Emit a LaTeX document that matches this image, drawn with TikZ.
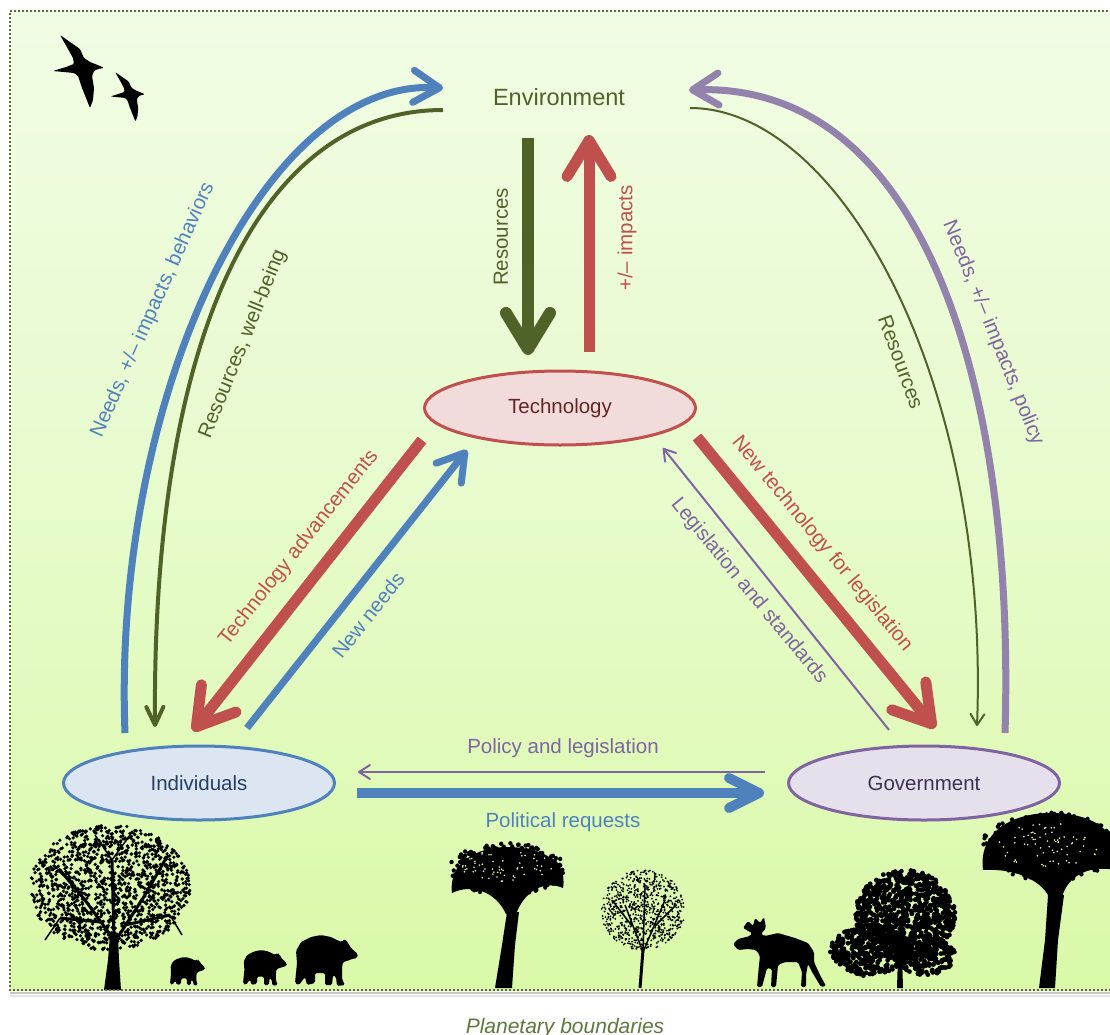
\documentclass[tikz,border=0pt]{standalone}
\usepackage{fontspec}
\setmainfont{Liberation Sans}
\usetikzlibrary{arrows.meta,shapes.geometric}

\definecolor{cblue}{HTML}{4F81BD}
\definecolor{cred}{HTML}{C0504D}
\definecolor{cgreen}{HTML}{4F6228}
\definecolor{cpurple}{HTML}{8064A2}
\definecolor{cpurplel}{RGB}{146,130,172}
\definecolor{framecol}{RGB}{90,105,60}
\definecolor{bgtop}{RGB}{241,252,228}
\definecolor{bgmid}{RGB}{231,251,204}
\definecolor{bgbot}{RGB}{218,249,168}
\definecolor{speck}{RGB}{222,249,180}
\definecolor{techfill}{HTML}{F2DCDB}
\definecolor{techtext}{HTML}{632523}
\definecolor{indfill}{HTML}{DCE6F2}
\definecolor{indtext}{HTML}{244061}
\definecolor{govfill}{HTML}{E6E0EC}
\definecolor{govtext}{HTML}{3F3151}
\definecolor{pbgreen}{RGB}{95,120,60}

\newcommand\crowndots[7]{%
  \foreach \ci in {1,...,#5}{%
    \pgfmathsetmacro\cang{360*rnd}%
    \pgfmathsetmacro\crad{sqrt(rnd)}%
    \pgfmathsetmacro\qx{#1+#3*\crad*cos(\cang)}%
    \pgfmathsetmacro\qy{#2+#4*\crad*sin(\cang)}%
    \fill[#7] (\qx,\qy) circle[radius=#6];%
  }}
\newcommand\birdshape{\fill[rounded corners=1.2pt] (6,0) -- (16,7) -- (26,14) -- (30,23) -- (36,27) -- (41,29) -- (46,31) -- (50,33) -- (44,34) -- (40,36) -- (38,41) -- (40,53) -- (39,65) -- (36,73) -- (32,63) -- (28,53) -- (24,41) -- (20,38) -- (-1,36) -- (12,32) -- (20,29) -- (19,23) -- (14,14) -- cycle;}
\newcommand\bearshape{\fill[rounded corners=1.5pt] (2,28) -- (1,16) -- (6,7) -- (16,2) -- (26,0) -- (36,2) -- (44,6) -- (47,7) -- (49,4) -- (52,6) -- (54,10) -- (58,15) -- (63,19) -- (62,23) -- (57,24) -- (52,26) -- (48,27) -- (47,33) -- (47,44) -- (50,50) -- (42,51) -- (41,42) -- (38,40) -- (37,50) -- (30,50) -- (30,38) -- (20,38) -- (20,48) -- (12,50) -- (10,42) -- (7,46) -- (4,50) -- (0,48) -- (1,38) -- cycle;}

\begin{document}
\begin{tikzpicture}[x=1pt,y=-1pt,
  lbl/.style={font=\fontsize{20.5}{24}\selectfont, inner sep=0pt},
  ell/.style={ellipse, line width=3pt, minimum width=271pt, minimum height=74pt, inner sep=0pt, font=\fontsize{20.5}{24}\selectfont},
  thickred/.style={cred, line width=11pt, -{Straight Barb[length=36pt,width=44pt,round]}},
  thickgreen/.style={cgreen, line width=12pt, -{Straight Barb[length=36pt,width=44pt,round]}},
  bigcurve/.style={line width=7pt, -{Straight Barb[length=26pt,width=32pt,round]}},
  midblue/.style={cblue, line width=7pt, -{Straight Barb[length=26pt,width=32pt,round]}},
  polblue/.style={cblue, line width=10pt, -{Straight Barb[length=30pt,width=30pt,round]}},
  greencurve/.style={cgreen, line width=4pt, -{Straight Barb[length=18pt,width=17pt,round]}},
  thinline/.style={line width=2pt, -{Straight Barb[length=11pt,width=14pt,round]}}
]
\useasboundingbox (0,0) rectangle (1110,1035);
\fill[white] (0,0) rectangle (1110,1035);
\shade[top color=bgtop, bottom color=bgbot, middle color=bgmid] (10,11) rectangle (1112,990);

% ---------- trees and animals ----------
% Tree A
\fill (104,990) -- (121,990) -- (119,960) -- (118,935) -- (110,935) -- (108,960) -- cycle;
\draw[line width=3pt] (114,940) -- (85,900) (116,940) -- (145,895) (114,940) -- (112,860) (100,922) -- (60,918) (125,925) -- (170,915) (85,900) -- (60,870) (145,895) -- (165,860);
\draw[line width=1.5pt] (60,918) -- (45,940) (170,915) -- (182,935) (112,860) -- (95,835) (112,860) -- (130,835);
\pgfmathsetseed{11}
\crowndots{110}{888}{80}{63}{1400}{1.8}{black}
% Bears
\begin{scope}[shift={(170,957)},scale=0.56]\bearshape\end{scope}
\begin{scope}[shift={(243,950)},scale=0.7]\bearshape\end{scope}
\begin{scope}[shift={(295,935)}]\bearshape\end{scope}
% Tree B
\fill (495,988) -- (512,988) -- (515,945) -- (519,912) -- (507,912) -- (502,945) -- cycle;
\fill (452,893) .. controls (448,862) and (478,847) .. (507,847) .. controls (540,847) and (568,860) .. (563,888) .. controls (545,880) and (525,890) .. (516,914) -- (506,914) .. controls (495,890) and (470,884) .. (452,893) -- cycle;
\pgfmathsetseed{23}
\crowndots{507}{869}{58}{26}{320}{2.2}{black}
\crowndots{507}{866}{46}{16}{60}{0.9}{speck}
% Tree C
\draw[line width=3pt] (640,988) -- (643,950);
\draw[line width=1.5pt] (643,952) -- (625,905) (643,952) -- (645,885) (643,952) -- (665,900) (632,926) -- (612,900) (655,926) -- (676,905);
\pgfmathsetseed{37}
\crowndots{643}{910}{42}{40}{800}{1.0}{black}
% Moose
\fill[rounded corners=1.5pt] (743,928) -- (748,921) -- (753,926) -- (755,918) -- (760,923) -- (764,917) -- (766,928) -- (761,934) -- (765,936) -- (778,933) -- (795,938) -- (808,943) -- (814,952) -- (814,962) -- (820,975) -- (826,986) -- (821,987) -- (812,972) -- (808,964) -- (806,975) -- (806,987) -- (801,987) -- (802,972) -- (798,962) -- (785,962) -- (778,965) -- (776,987) -- (771,987) -- (772,969) -- (767,968) -- (762,987) -- (757,987) -- (759,965) -- (760,956) -- (756,950) -- (748,949) -- (738,950) -- (733,944) -- (738,939) -- (750,936) -- (752,933) -- cycle;
% Tree D
\fill (897,988) -- (903,988) -- (902,955) -- (898,955) -- cycle;
\pgfmathsetseed{41}
\crowndots{905}{915}{50}{45}{900}{2.4}{black}
\crowndots{868}{950}{38}{26}{360}{2.4}{black}
\crowndots{925}{955}{30}{20}{180}{2.4}{black}
% Tree E
\fill (1039,988) -- (1055,988) -- (1058,940) -- (1064,895) -- (1048,895) -- (1045,940) -- cycle;
\fill (983,870) .. controls (978,830) and (1015,813) .. (1050,813) .. controls (1090,813) and (1115,828) .. (1115,855) -- (1115,870) .. controls (1090,865) and (1068,875) .. (1062,897) -- (1049,897) .. controls (1040,878) and (1010,868) .. (983,870) -- cycle;
\pgfmathsetseed{53}
\crowndots{1048}{847}{68}{35}{420}{2.2}{black}
\crowndots{1048}{845}{52}{22}{70}{0.9}{speck}

% ---------- frame ----------
\draw[black!22, line width=2pt] (10,993) -- (1112,993);
\draw[black!10, line width=2pt] (10,995.5) -- (1112,995.5);
\draw[framecol, line width=2pt, dash pattern=on 2pt off 2pt] (1112,11) -- (10,11) -- (10,990) -- (1112,990);

% ---------- birds ----------
\begin{scope}[shift={(54,35)}]\birdshape\end{scope}
\begin{scope}[shift={(111,72)},scale=0.68]\birdshape\end{scope}

% ---------- nodes ----------
\node[lbl, font=\fontsize{23.5}{28}\selectfont, text=cgreen] (env) at (559,97) {Environment};
\node[ell, draw=cred, fill=techfill, text=techtext] (tech) at (560,408) {Technology};
\node[ell, draw=cblue, fill=indfill, text=indtext] (ind) at (199,783) {Individuals};
\node[ell, draw=cpurple, fill=govfill, text=govtext] (gov) at (924,783) {Government};

% ---------- connector ends ----------
\coordinate (indTop) at (125,733);
\coordinate (envLeftA) at (443,88);
\coordinate (envLeftB) at (443,110);
\coordinate (indArr) at (155,727);
\coordinate (govTop) at (1005,733);
\coordinate (envRightA) at (689,90);
\coordinate (envRightB) at (690,108);
\coordinate (govArr) at (977,726);
\coordinate (envDown) at (528,138);
\coordinate (techUpArr) at (528,355);
\coordinate (techUp) at (589,352);
\coordinate (envUpArr) at (589,135);
\coordinate (techSW) at (422,440);
\coordinate (indNE) at (193,731);
\coordinate (indNE2) at (247,728);
\coordinate (techSW2) at (467,450);
\coordinate (techSE) at (697,437);
\coordinate (govNW) at (935,728);
\coordinate (govNW2) at (889,730);
\coordinate (techSE2) at (663,448);
\coordinate (govW) at (765,772);
\coordinate (indE) at (358,772);
\coordinate (indE2) at (357,793);
\coordinate (govW2) at (764,793);

% ---------- connectors ----------
\draw[bigcurve, cblue] (indTop) .. controls (112,400) and (262,78) .. (envLeftA);
\draw[greencurve] (envLeftB) .. controls (262,110) and (152,330) .. (indArr);
\draw[bigcurve, cpurplel] (govTop) .. controls (1015,400) and (930,82) .. (envRightA);
\draw[thinline, cgreen] (envRightB) .. controls (840,108) and (990,380) .. (govArr);
\draw[thickgreen] (envDown) -- (techUpArr);
\draw[thickred] (techUp) -- (envUpArr);
\draw[thickred] (techSW) -- (indNE);
\draw[midblue] (indNE2) -- (techSW2);
\draw[thickred] (techSE) -- (govNW);
\draw[thinline, cpurple] (govNW2) -- (techSE2);
\draw[thinline, cpurple] (govW) -- (indE);
\draw[polblue] (indE2) -- (govW2);

% ---------- labels ----------
\node[lbl, text=cblue, rotate=66] (lneedsb) at (153,310) {Needs, +/– impacts, behaviors};
\node[lbl, text=cgreen, rotate=68] (lreswb) at (243,344) {Resources, well-being};
\node[lbl, text=cpurple, rotate=-68] (lneedsp) at (993,333) {Needs, +/– impacts, policy};
\node[lbl, text=cgreen, rotate=-70] (lresr) at (901,362) {Resources};
\node[lbl, text=cgreen, rotate=90] (lresv) at (501,237) {Resources};
\node[lbl, text=cred, rotate=90] (limp) at (627,238) {+/– impacts};
\node[lbl, text=cred, rotate=51.5] (ltechadv) at (299,548) {Technology advancements};
\node[lbl, text=cblue, rotate=51.5] (lnewneeds) at (368,615) {New needs};
\node[lbl, text=cred, rotate=-50.5] (lnewtech) at (822,544) {New technology for legislation};
\node[lbl, text=cpurple, rotate=-50.5] (llegis) at (749,591) {Legislation and standards};
\node[lbl, text=cpurple] (lpolicy) at (563,748) {Policy and legislation};
\node[lbl, text=cblue] (lpolreq) at (563,822) {Political requests};
\node[lbl, font=\itshape\fontsize{21}{25}\selectfont, text=pbgreen, anchor=base] (pb) at (565,1033) {Planetary boundaries};
\end{tikzpicture}
\end{document}
